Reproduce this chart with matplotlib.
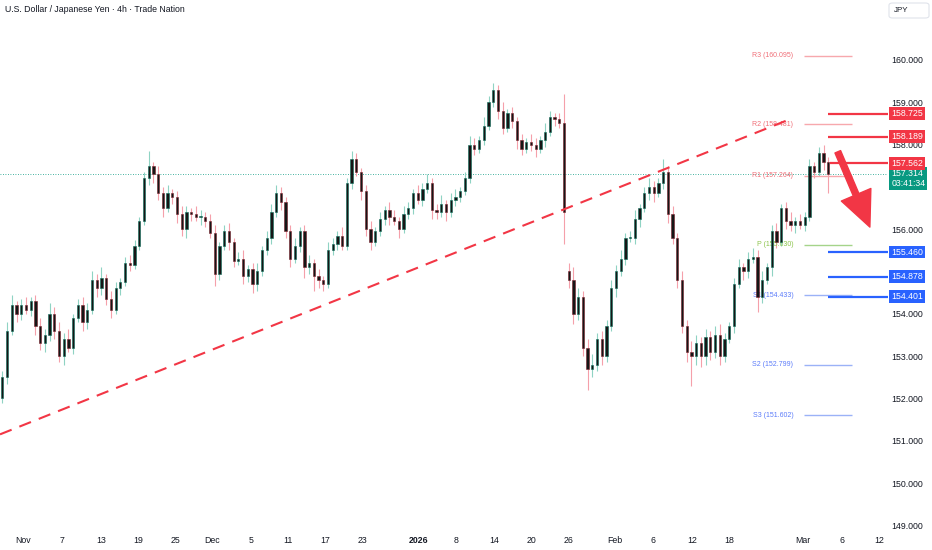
import matplotlib.pyplot as plt
from matplotlib.patches import FancyBboxPatch

# ==============================
# DATA (half-day candles)
# ==============================
first_open = 152.0

closes = [
    152.5, 153.6, 154.2, 154.0, 154.2, 154.1, 154.3, 153.7, 153.3, 153.5,
    154.0, 153.6, 153.0, 153.4, 153.2, 153.9, 154.2, 153.8, 154.1, 154.8,
    154.6, 154.85, 154.35, 154.1, 154.6, 154.75, 155.2, 155.15, 155.6, 156.2,
    157.2, 157.5, 157.3, 156.85, 156.5, 156.85, 156.75, 156.35, 156.0, 156.4,
    156.35, 156.3, 156.3, 156.2, 155.9, 154.95, 155.6, 155.95, 155.7, 155.25,
    155.3, 154.9, 155.05, 154.7, 155.0, 155.5, 155.8, 156.4, 156.85, 156.65,
    155.95, 155.3, 155.6, 155.95, 155.1, 155.2, 154.9, 154.8, 154.7, 155.5,
    155.65, 155.85, 155.6, 157.1, 157.65, 157.35, 156.9, 156.0, 155.7, 155.95,
    156.25, 156.45, 156.3, 156.2, 156.0, 156.35, 156.5, 156.85, 156.7, 156.95,
    157.1, 156.45, 156.4, 156.6, 156.4, 156.7, 156.75, 156.9, 157.2, 158.0,
    157.9, 158.1, 158.45, 159.0, 159.3, 158.8, 158.4, 158.75, 158.55, 158.1,
    157.9, 158.05, 158.0, 157.9, 158.1, 158.3, 158.65, 158.6, 158.5, 156.4,
    154.8, 154.0, 154.4, 153.2, 152.7, 152.8, 153.4, 153.0, 153.7, 154.6,
    155.0, 155.3, 155.8, 155.8, 156.25, 156.5, 156.85, 157.0, 156.85, 157.1,
    157.35, 156.35, 155.8, 154.8, 153.7, 153.1, 153.0, 153.3, 153.0, 153.45,
    153.1, 153.5, 153.0, 153.4, 153.7, 154.7, 155.1, 155.0, 155.3, 155.35,
    154.4, 154.8, 155.1, 155.95, 155.7, 156.5, 156.2, 156.1, 156.2, 156.1,
    156.3, 157.5, 157.35, 157.8, 157.6, 157.314,
]

wick_hi = [
    .15, .2, .25, .1, .15, .2, .1, .15, .2, .15,
    .25, .15, .2, .15, .25, .1, .15, .2, .15, .2,
    .15, .25, .1, .2, .15, .1, .15, .2, .15, .1,
    .15, .35, .1, .2, .15, .2, .1, .15, .2, .15,
    .1, .2, .15, .1, .15, .2, .1, .15, .2, .1,
    .15, .2, .1, .15, .2, .1, .15, .2, .2, .15,
    .1, .15, .2, .1, .15, .2, .1, .15, .1, .2,
    .15, .1, .2, .1, .2, .15, .1, .15, .2, .1,
    .15, .1, .2, .15, .1, .2, .15, .1, .2, .15,
    .2, .1, .15, .2, .1, .15, .2, .1, .15, .2,
    .15, .1, .2, .15, .15, .1, .2, .1, .15, .1,
    .15, .1, .2, .15, .1, .2, .15, .1, .15, .7,
    .2, .3, .2, .15, .2, .25, .15, .2, .15, .2,
    .15, .2, .1, .15, .2, .1, .15, .2, .15, .1,
    .3, .15, .2, .1, .2, .15, .25, .2, .15, .2,
    .15, .2, .25, .15, .1, .15, .2, .1, .15, .2,
    .15, .2, .1, .15, .2, .1, .15, .2, .1, .15,
    .1, .15, .1, .15, .2, .1,
]

wick_lo = [
    .1, .15, .1, .2, .15, .1, .15, .2, .15, .2,
    .15, .2, .15, .2, .1, .15, .1, .2, .15, .1,
    .2, .15, .15, .2, .1, .15, .1, .15, .1, .1,
    .1, .15, .2, .15, .2, .1, .15, .2, .15, .2,
    .15, .1, .2, .15, .1, .3, .15, .1, .2, .15,
    .1, .2, .15, .2, .15, .1, .1, .15, .1, .2,
    .15, .2, .1, .15, .25, .15, .35, .2, .15, .1,
    .1, .15, .1, .1, .15, .1, .2, .15, .2, .1,
    .1, .15, .2, .1, .2, .1, .1, .15, .1, .15,
    .1, .2, .15, .1, .2, .1, .15, .1, .1, .1,
    .15, .1, .1, .1, .1, .2, .15, .1, .15, .2,
    .15, .1, .15, .2, .1, .15, .1, .15, .1, .75,
    .2, .25, .15, .2, .5, .2, .15, .2, .15, .1,
    .2, .1, .15, .1, .15, .2, .1, .15, .2, .1,
    .15, .2, .15, .2, .15, .25, .7, .2, .25, .2,
    .2, .15, .2, .15, .1, .15, .1, .2, .15, .1,
    .35, .15, .1, .2, .15, .1, .2, .15, .2, .1,
    .15, .1, .15, .1, .2, .45,
]

# weekend gap after the Jan 23 drop
gap_opens = {120: 155.0}

date_labels = ['Nov', '7', '13', '19', '25', 'Dec', '5', '11', '17', '23',
               '2026', '8', '14', '20', '26', 'Feb', '6', '12', '18',
               'Mar', '6', '12']
date_pos = [4.3, 12.7, 20.9, 28.7, 36.6, 44.4, 52.6, 60.5, 68.4, 76.4,
            88.2, 96.1, 104.3, 112.2, 120.05, 129.8, 137.8, 146.1, 154.0,
            169.6, 177.8, 185.8]

price_ticks = [149, 150, 151, 152, 153, 154, 155, 156, 157, 158, 159, 160]
# labels fully covered by the price tags on the reference
hidden_ticks = [155, 157]

current_price = 157.314
countdown = "03:41:34"
red_levels = [158.725, 158.189, 157.562]
blue_levels = [155.460, 154.878, 154.401]

pivot_names = ['R3', 'R2', 'R1', 'P', 'S1', 'S2', 'S3']
pivot_values = [160.095, 158.481, 157.264, 155.630, 154.433, 152.799, 151.602]

trend_x = [-0.5, 167.3]
trend_y = [151.15, 158.62]

arrow_from = (177.0, 157.83)
arrow_to = (183.8, 156.05)

# ==============================
# CANDLES
# ==============================
n = len(closes)
x = list(range(n))
opens = [first_open] + closes[:-1]
for i, v in gap_opens.items():
    opens[i] = v
highs = [max(o, c) + w for o, c, w in zip(opens, closes, wick_hi)]
lows = [min(o, c) - w for o, c, w in zip(opens, closes, wick_lo)]
up = [c >= o for o, c in zip(opens, closes)]

plt.rcParams['font.family'] = ['Liberation Sans', 'DejaVu Sans']

fig = plt.figure(figsize=(9.32, 5.5), dpi=100)
ax = fig.add_axes([0, 18 / 550, 888 / 932, 532 / 550])
ax.set_xlim(-0.5, 187.64)
ax.set_ylim(148.842, 161.418)

wick_col = ['#8fd3c3' if u else '#f5a0aa' for u in up]
edge_col = ['#0b6e5a' if u else '#7a1f2b' for u in up]
ax.vlines(x, lows, highs, colors=wick_col, lw=0.8, zorder=2)
bottoms = [min(o, c) for o, c in zip(opens, closes)]
heights = [max(abs(c - o), 0.02) for o, c in zip(opens, closes)]
ax.bar(x, heights, bottom=bottoms, width=0.48, color='#161616',
       edgecolor=edge_col, linewidth=0.4, zorder=3)

# current price dotted line
ax.axhline(current_price, color='#089981', lw=0.6, ls=(0, (1, 2)), zorder=1)

# trend line
ax.plot(trend_x, trend_y, color='#f23645', lw=1.5, dashes=(6, 4), zorder=4)

# pivot levels
for name, v in zip(pivot_names, pivot_values):
    if name.startswith('R'):
        lc, tc = '#f7a8ad', '#f06f78'
    elif name == 'P':
        lc, tc = '#a5d48a', '#8bc34a'
    else:
        lc, tc = '#9bb2f7', '#5c7cfa'
    ax.hlines(v, 169.8, 180.0, colors=lc, lw=1.0, zorder=2)
    ax.text(167.6, v, f"{name} ({v:.3f})", ha='right', va='center',
            fontsize=5, color=tc, zorder=2)

# support / resistance levels
ax.hlines(red_levels[:2], 175.0, 187.64, colors='#f23645', lw=1.6, zorder=5)
ax.hlines(red_levels[2], 175.3, 187.64, colors='#f23645', lw=1.6, zorder=5)
ax.hlines(blue_levels, 175.0, 187.64, colors='#2962ff', lw=1.6, zorder=5)

# arrow
ax.annotate('', xy=arrow_to, xytext=arrow_from,
            arrowprops=dict(arrowstyle='simple,head_length=1.15,head_width=1.05,tail_width=0.2',
                            color='#f23645', shrinkA=0, shrinkB=0, mutation_scale=22),
            zorder=6)

# axes styling
for s in ax.spines.values():
    s.set_visible(False)
ax.yaxis.tick_right()
ax.set_yticks(price_ticks)
ax.set_yticklabels(["" if p in hidden_ticks else f"{p:.3f}" for p in price_ticks])
ax.tick_params(axis='y', length=0, pad=2.7, labelsize=6.3, labelcolor='#131722')
ax.set_xticks(date_pos)
ax.set_xticklabels(date_labels)
ax.tick_params(axis='x', length=0, pad=3, labelsize=6.3, labelcolor='#131722')
for lbl in ax.get_xticklabels():
    if lbl.get_text() == '2026':
        lbl.set_fontweight('bold')

# price tags on the axis
tag_style = dict(xycoords=('axes fraction', 'data'), textcoords='offset points',
                 xytext=(2.4, 0), ha='left', va='center', fontsize=6.3,
                 color='white', annotation_clip=False)
ax.annotate(f"{current_price:.3f}\n{countdown}", xy=(1, current_price - 0.12),
            linespacing=1.1, zorder=9,
            bbox=dict(boxstyle='square,pad=0.22', fc='#089981', ec='none'), **tag_style)
for v in red_levels:
    ax.annotate(f"{v:.3f}", xy=(1, v), zorder=10,
                bbox=dict(boxstyle='square,pad=0.22', fc='#f23645', ec='none'), **tag_style)
for v in blue_levels:
    ax.annotate(f"{v:.3f}", xy=(1, v), zorder=10,
                bbox=dict(boxstyle='square,pad=0.22', fc='#2962ff', ec='none'), **tag_style)

# title
fig.text(5 / 932, 1 - 10 / 550, "U.S. Dollar / Japanese Yen · 4h · Trade Nation",
         fontsize=6.3, color='#131722', va='center', ha='left',
         family=['Liberation Sans Narrow', 'Liberation Sans', 'DejaVu Sans'])

# currency box
box = FancyBboxPatch((889 / 932, 1 - 18 / 550), 40 / 932, 15 / 550,
                     boxstyle='round,pad=0,rounding_size=0.004',
                     transform=fig.transFigure, fc='white', ec='#e0e3eb', lw=0.8)
fig.patches.append(box)
fig.text(894 / 932, 1 - 10.5 / 550, "JPY", fontsize=5.8, color='#131722',
         va='center', ha='left')

plt.savefig("out.png", dpi=100)
plt.close()
